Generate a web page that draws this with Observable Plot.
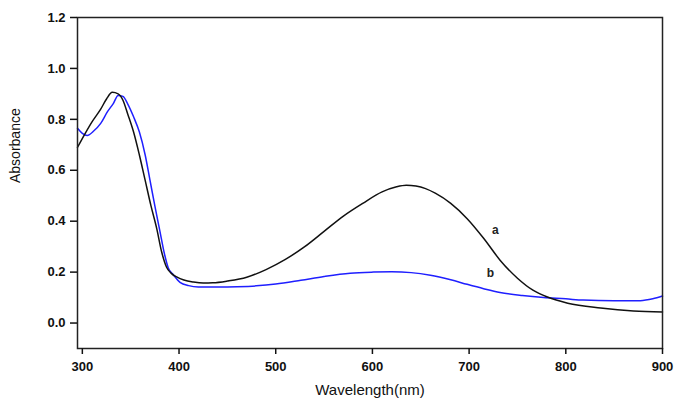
<!DOCTYPE html>
<html>
<head>
<meta charset="utf-8">
<script src="https://cdn.jsdelivr.net/npm/d3@7"></script>
<script src="https://cdn.jsdelivr.net/npm/@observablehq/plot@0.6"></script>
<style>
  html, body { margin: 0; padding: 0; background: #fff; }
</style>
</head>
<body>
<div id="chart"></div>
<script>
// Curve a (black)
const aWavelength = [295, 303, 310, 319, 325, 331, 337, 342, 347, 353, 359, 365, 371, 377, 382, 387, 392, 398, 405, 415, 425, 435, 450, 470, 490, 510, 530, 550, 570, 590, 610, 625, 635, 645, 655, 665, 681, 698, 715, 732, 750, 766, 781, 802, 836, 870, 900];
const aAbsorbance = [0.69, 0.745, 0.79, 0.84, 0.88, 0.906, 0.90, 0.875, 0.82, 0.75, 0.66, 0.56, 0.46, 0.37, 0.28, 0.22, 0.195, 0.18, 0.169, 0.161, 0.157, 0.158, 0.165, 0.18, 0.21, 0.25, 0.30, 0.36, 0.42, 0.47, 0.515, 0.535, 0.541, 0.538, 0.528, 0.51, 0.47, 0.41, 0.333, 0.247, 0.176, 0.129, 0.102, 0.078, 0.059, 0.047, 0.043];

// Curve b (blue)
const bWavelength = [295, 300, 305, 312, 319, 326, 332, 337, 342, 347, 353, 359, 365, 370, 375, 380, 385, 389, 394, 401, 410, 420, 440, 460, 480, 500, 526, 550, 577, 601, 620, 640, 660, 681, 698, 715, 732, 755, 777, 800, 818, 850, 877, 890, 900];
const bAbsorbance = [0.765, 0.745, 0.737, 0.755, 0.784, 0.83, 0.862, 0.894, 0.89, 0.86, 0.81, 0.75, 0.66, 0.56, 0.46, 0.365, 0.27, 0.215, 0.19, 0.16, 0.147, 0.142, 0.142, 0.143, 0.146, 0.153, 0.168, 0.183, 0.196, 0.20, 0.201, 0.198, 0.188, 0.17, 0.152, 0.135, 0.12, 0.108, 0.10, 0.095, 0.09, 0.088, 0.088, 0.095, 0.106];

const xTicks = [300, 400, 500, 600, 700, 800, 900];
const yTicks = [0.0, 0.2, 0.4, 0.6, 0.8, 1.0, 1.2];

const labelText = ["a", "b"];
const labelX = [727, 722];
const labelY = [0.365, 0.195];

const xTitle = "Wavelength(nm)";
const yTitle = "Absorbance";

const aData = aWavelength.map((x, i) => ({x, y: aAbsorbance[i]}));
const bData = bWavelength.map((x, i) => ({x, y: bAbsorbance[i]}));
const labels = labelText.map((t, i) => ({t, x: labelX[i], y: labelY[i]}));

const chart = Plot.plot({
  width: 675,
  height: 403,
  marginLeft: 77,
  marginRight: 13,
  marginTop: 17,
  marginBottom: 55,
  style: {fontFamily: "'Liberation Sans', Arial, sans-serif", fontSize: "13px", color: "#111", background: "#fff"},
  x: {domain: [295, 900]},
  y: {domain: [-0.1, 1.2]},
  marks: [
    Plot.line(bData, {x: "x", y: "y", stroke: "#1f1fff", strokeWidth: 1.5, curve: "monotone-x"}),
    Plot.line(aData, {x: "x", y: "y", stroke: "#111", strokeWidth: 1.5, curve: "monotone-x"}),
    Plot.frame({stroke: "#222", strokeWidth: 1.5}),
    Plot.axisY({ticks: yTicks, tickFormat: d3.format(".1f"), tickSize: 7, tickPadding: 5, label: null, strokeWidth: 1.5, fontWeight: "bold"}),
    Plot.axisX({ticks: xTicks, tickFormat: d => String(d), tickSize: 6, tickPadding: 7, label: null, strokeWidth: 1.5, fontWeight: "bold"}),
    Plot.text(labels, {x: "x", y: "y", text: "t", fontSize: 12, fontWeight: "bold", fill: "#222"}),
    Plot.text([yTitle], {frameAnchor: "left", rotate: -90, dx: -62, fontSize: 14, fill: "#111"}),
    Plot.text([xTitle], {frameAnchor: "bottom", dy: 46, fontSize: 15, fill: "#111"})
  ]
});
document.getElementById("chart").appendChild(chart);
</script>
</body>
</html>
